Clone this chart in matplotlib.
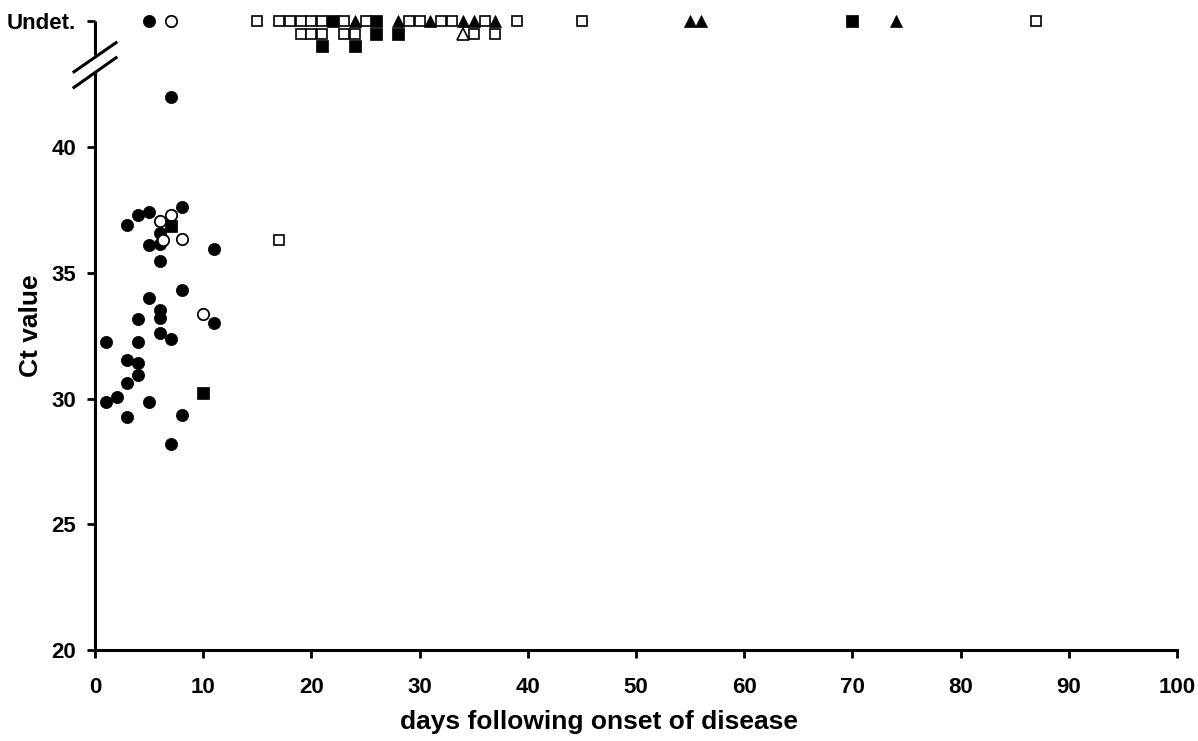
import matplotlib
matplotlib.use("Agg")
import matplotlib.pyplot as plt

plt.rcParams['font.family'] = ['Liberation Sans', 'DejaVu Sans']
plt.rcParams['font.weight'] = 'bold'

UNDET = 45.0  # value used for "Undet." level (rows stacked below it)

# filled circles
fc_x = [7, 5, 4, 3, 8, 6, 5, 6, 11, 6, 8, 5, 6, 6, 11, 4, 6, 7, 1, 4, 3, 4, 4, 3, 2, 1, 5, 3, 8, 7, 5]
fc_y = [42.0, 37.4, 37.3, 36.9, 37.6, 36.6, 36.1, 36.15, 35.95, 35.45, 34.3, 34.0, 33.5, 33.2, 33.0, 33.15,
        32.6, 32.35, 32.25, 32.25, 31.55, 31.4, 30.95, 30.6, 30.05, 29.85, 29.85, 29.25, 29.35, 28.2, UNDET]
# open circles
oc_x = [6, 7, 6.25, 8, 10, 7]
oc_y = [37.05, 37.3, 36.3, 36.35, 33.35, UNDET]
# filled squares
fs_x = [7, 10, 22, 26, 70, 26, 28, 21, 24]
fs_y = [36.85, 30.2, 45.0, 45.0, 45.0, 44.5, 44.5, 44.0, 44.0]
# open squares
os_x = [17, 15, 17, 18, 19, 20, 21, 23, 25, 29, 30, 32, 33, 36, 39, 45, 87,
        19, 20, 21, 23, 24, 35, 37]
os_y = [36.3] + [45.0] * 16 + [44.5] * 7
# filled triangles
ft_x = [24, 28, 31, 34, 35, 37, 55, 56, 74]
ft_y = [45.0] * 9
# open triangles
ot_x = [34]
ot_y = [44.5]

xticks = [0, 10, 20, 30, 40, 50, 60, 70, 80, 90, 100]
yticks = [20, 25, 30, 35, 40, UNDET]
ytick_labels = ['20', '25', '30', '35', '40', 'Undet.']

fig = plt.figure(figsize=(11.98, 7.41), dpi=100)
ax = fig.add_axes([95 / 1198, 91 / 741, (1177 - 95) / 1198, (650 - 8.7) / 741])
ax.set_xlim(0, 100)
ax.set_ylim(20, 45.5)

common = dict(linestyle='none', clip_on=False, zorder=3)
ax.plot(fc_x, fc_y, marker='o', markersize=8.8, markerfacecolor='black', markeredgecolor='black', markeredgewidth=0.5, **common)
ax.plot(oc_x, oc_y, marker='o', markersize=8.2, markerfacecolor='white', markeredgecolor='black', markeredgewidth=1.3, **common)
ax.plot(fs_x, fs_y, marker='s', markersize=8.0, markerfacecolor='black', markeredgecolor='black', markeredgewidth=0.5, **common)
ax.plot(os_x, os_y, marker='s', markersize=7.3, markerfacecolor='white', markeredgecolor='black', markeredgewidth=1.2, **common)
ax.plot(ft_x, ft_y, marker='^', markersize=8.8, markerfacecolor='black', markeredgecolor='black', markeredgewidth=0.5, **common)
ax.plot(ot_x, ot_y, marker='^', markersize=8.0, markerfacecolor='white', markeredgecolor='black', markeredgewidth=1.2, **common)

for s in ['top', 'right']:
    ax.spines[s].set_visible(False)
lw = 2.2
ax.spines['bottom'].set_linewidth(lw)
ax.spines['left'].set_linewidth(lw)
ax.spines['left'].set_bounds(20, 42.98)
ax.spines['left'].set_capstyle('butt')

# upper piece of the broken y axis and the break marks
ax.plot([0, 0], [43.66, UNDET], color='black', linewidth=lw, clip_on=False, solid_capstyle='butt')
ax.plot([-1.94, 1.94], [42.99, 44.15], color='black', linewidth=lw, clip_on=False)
ax.plot([-1.94, 1.94], [42.37, 43.55], color='black', linewidth=lw, clip_on=False)

ax.set_xticks(xticks)
ax.set_xticklabels([str(t) for t in xticks])
ax.set_yticks(yticks)
ax.set_yticklabels(ytick_labels)
ax.tick_params(direction='out', length=5.5, width=2.0, labelsize=16)
ax.tick_params(axis='x', pad=14)
ax.tick_params(axis='y', pad=8)
for lab in ax.get_xticklabels() + ax.get_yticklabels():
    lab.set_fontweight('bold')

fig.text(599 / 1198, 1 - 722 / 741, 'days following onset of disease', fontsize=19,
         fontweight='bold', ha='center', va='center')
fig.text(31 / 1198, 1 - 326 / 741, 'Ct value', fontsize=19, fontweight='bold',
         rotation=90, ha='center', va='center')

fig.savefig('out.png', dpi=100)
